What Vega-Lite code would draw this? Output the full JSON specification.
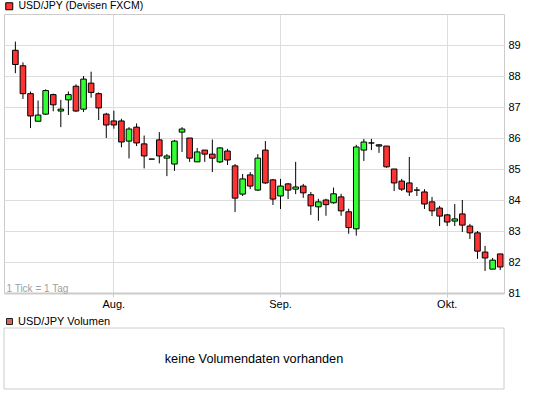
{
  "$schema": "https://vega.github.io/schema/vega-lite/v6.json",
  "padding": {"left": 3, "top": 0, "right": 0, "bottom": 0},
  "background": "white",
  "config": {
    "font": "Liberation Sans",
    "view": {"stroke": "#cccccc", "strokeWidth": 1},
    "axis": {"labelFont": "Liberation Sans", "labelColor": "#000000", "labelFontSize": 11}
  },
  "bounds": "flush",
  "spacing": 35,
  "resolve": {"scale": {"fill": "independent"}, "legend": {"fill": "independent"}},
  "vconcat": [
    {
      "width": 500,
      "height": 279,
      "data": {"values": [
        {"d":"2010-07-14","o":88.83,"h":89.11,"l":88.09,"c":88.37},
        {"d":"2010-07-15","o":88.33,"h":88.44,"l":87.26,"c":87.43},
        {"d":"2010-07-16","o":87.43,"h":87.50,"l":86.32,"c":86.71},
        {"d":"2010-07-19","o":86.54,"h":87.21,"l":86.54,"c":86.74},
        {"d":"2010-07-20","o":86.77,"h":87.57,"l":86.74,"c":87.53},
        {"d":"2010-07-21","o":87.40,"h":87.43,"l":86.86,"c":87.07},
        {"d":"2010-07-22","o":86.87,"h":87.23,"l":86.35,"c":86.93},
        {"d":"2010-07-23","o":87.23,"h":87.50,"l":86.74,"c":87.40},
        {"d":"2010-07-26","o":87.67,"h":87.73,"l":86.84,"c":86.87},
        {"d":"2010-07-27","o":86.93,"h":88.00,"l":86.84,"c":87.90},
        {"d":"2010-07-28","o":87.77,"h":88.14,"l":87.30,"c":87.47},
        {"d":"2010-07-29","o":87.43,"h":87.47,"l":86.58,"c":86.97},
        {"d":"2010-07-30","o":86.77,"h":86.81,"l":86.00,"c":86.42},
        {"d":"2010-08-02","o":86.55,"h":86.88,"l":86.30,"c":86.42},
        {"d":"2010-08-03","o":86.55,"h":86.62,"l":85.70,"c":85.87},
        {"d":"2010-08-04","o":85.90,"h":86.35,"l":85.34,"c":86.29},
        {"d":"2010-08-05","o":86.35,"h":86.47,"l":85.74,"c":85.84},
        {"d":"2010-08-06","o":85.81,"h":86.08,"l":85.02,"c":85.42},
        {"d":"2010-08-09","o":85.32,"h":85.32,"l":85.32,"c":85.32},
        {"d":"2010-08-10","o":85.94,"h":86.19,"l":85.18,"c":85.42},
        {"d":"2010-08-11","o":85.35,"h":85.48,"l":84.77,"c":85.42},
        {"d":"2010-08-12","o":85.16,"h":85.94,"l":84.94,"c":85.90},
        {"d":"2010-08-13","o":86.19,"h":86.35,"l":85.55,"c":86.29},
        {"d":"2010-08-16","o":86.00,"h":86.00,"l":85.23,"c":85.35},
        {"d":"2010-08-17","o":85.23,"h":85.68,"l":85.23,"c":85.55},
        {"d":"2010-08-18","o":85.61,"h":85.61,"l":85.23,"c":85.48},
        {"d":"2010-08-19","o":85.48,"h":85.95,"l":84.90,"c":85.35},
        {"d":"2010-08-20","o":85.23,"h":85.71,"l":85.19,"c":85.68},
        {"d":"2010-08-23","o":85.58,"h":85.65,"l":85.13,"c":85.29},
        {"d":"2010-08-24","o":85.10,"h":85.16,"l":83.61,"c":84.06},
        {"d":"2010-08-25","o":84.19,"h":84.84,"l":84.13,"c":84.68},
        {"d":"2010-08-26","o":84.81,"h":84.90,"l":84.35,"c":84.45},
        {"d":"2010-08-27","o":84.32,"h":85.48,"l":84.29,"c":85.35},
        {"d":"2010-08-30","o":85.61,"h":85.90,"l":84.52,"c":84.55},
        {"d":"2010-08-31","o":84.65,"h":84.68,"l":83.84,"c":84.03},
        {"d":"2010-09-01","o":84.13,"h":84.68,"l":83.71,"c":84.45},
        {"d":"2010-09-02","o":84.52,"h":84.55,"l":84.03,"c":84.32},
        {"d":"2010-09-03","o":84.35,"h":85.23,"l":84.19,"c":84.42},
        {"d":"2010-09-06","o":84.45,"h":84.52,"l":84.07,"c":84.23},
        {"d":"2010-09-07","o":84.17,"h":84.26,"l":83.52,"c":83.81},
        {"d":"2010-09-08","o":83.78,"h":84.04,"l":83.33,"c":83.94},
        {"d":"2010-09-09","o":84.00,"h":84.04,"l":83.49,"c":83.85},
        {"d":"2010-09-10","o":83.91,"h":84.40,"l":83.88,"c":84.20},
        {"d":"2010-09-13","o":84.10,"h":84.20,"l":83.49,"c":83.65},
        {"d":"2010-09-14","o":83.62,"h":83.72,"l":82.91,"c":83.11},
        {"d":"2010-09-15","o":83.07,"h":85.78,"l":82.85,"c":85.71},
        {"d":"2010-09-16","o":85.61,"h":85.97,"l":85.26,"c":85.87},
        {"d":"2010-09-17","o":85.84,"h":85.97,"l":85.61,"c":85.84},
        {"d":"2010-09-20","o":85.78,"h":85.80,"l":85.52,"c":85.74},
        {"d":"2010-09-21","o":85.74,"h":85.74,"l":85.04,"c":85.07},
        {"d":"2010-09-22","o":85.00,"h":85.00,"l":84.29,"c":84.55},
        {"d":"2010-09-23","o":84.61,"h":84.68,"l":84.29,"c":84.35},
        {"d":"2010-09-24","o":84.55,"h":85.39,"l":84.13,"c":84.26},
        {"d":"2010-09-27","o":84.32,"h":84.42,"l":84.13,"c":84.32},
        {"d":"2010-09-28","o":84.26,"h":84.35,"l":83.71,"c":83.87},
        {"d":"2010-09-29","o":83.94,"h":84.10,"l":83.48,"c":83.65},
        {"d":"2010-09-30","o":83.74,"h":83.81,"l":83.16,"c":83.48},
        {"d":"2010-10-01","o":83.52,"h":83.55,"l":83.16,"c":83.29},
        {"d":"2010-10-04","o":83.32,"h":83.87,"l":83.16,"c":83.39},
        {"d":"2010-10-05","o":83.55,"h":84.00,"l":82.97,"c":83.19},
        {"d":"2010-10-06","o":83.16,"h":83.23,"l":82.74,"c":82.94},
        {"d":"2010-10-07","o":82.94,"h":83.00,"l":82.10,"c":82.35},
        {"d":"2010-10-08","o":82.32,"h":82.52,"l":81.71,"c":82.13},
        {"d":"2010-10-11","o":81.77,"h":82.13,"l":81.77,"c":82.06},
        {"d":"2010-10-12","o":82.26,"h":82.26,"l":81.74,"c":81.84}
      ]},
      "encoding": {
        "x": {
          "field": "d", "type": "ordinal",
          "scale": {"paddingInner": 0, "paddingOuter": 0},
          "axis": {
            "values": ["2010-08-02", "2010-09-01", "2010-10-01"],
            "labelExpr": "datum.value == '2010-08-02' ? 'Aug.' : datum.value == '2010-09-01' ? 'Sep.' : 'Okt.'",
            "labelAngle": 0,
            "bandPosition": 0.5,
            "grid": true,
            "gridColor": "#dddddd",
            "tickColor": "#cccccc",
            "tickSize": 4,
            "labelPadding": 1,
            "labelFontSize": 11,
            "domainColor": "#cccccc",
            "domainWidth": 2,
            "title": "1 Tick = 1 Tag",
            "titleAnchor": "start",
            "titleAlign": "left",
            "titleBaseline": "alphabetic",
            "titleX": 2,
            "titleY": -2,
            "titleColor": "#a0a0a0",
            "titleFontSize": 10,
            "titleFontWeight": "normal",
            "titleFont": "Liberation Sans"
          }
        }
      },
      "layer": [
        {
          "mark": {"type": "rule", "color": "#000000", "strokeWidth": 1},
          "encoding": {
            "y": {
              "field": "l", "type": "quantitative",
              "scale": {"domain": [81, 90], "nice": false, "zero": false},
              "axis": {
                "orient": "right",
                "values": [81, 82, 83, 84, 85, 86, 87, 88, 89],
                "format": "d",
                "tickCount": 20,
                "labelOverlap": false,
                "ticks": false,
                "tickSize": 0,
                "domain": false,
                "labelPadding": 4,
                "grid": true,
                "gridColor": "#dddddd",
                "title": null
              }
            },
            "y2": {"field": "h"}
          }
        },
        {
          "mark": {"type": "bar", "width": {"band": 0.74}, "stroke": "#000000", "strokeWidth": 1},
          "encoding": {
            "y": {"field": "o", "type": "quantitative"},
            "y2": {"field": "c"},
            "color": {"condition": {"test": "datum.c > datum.o", "value": "#33ff33"}, "value": "#ff3333"}
          }
        },
        {
          "data": {"values": [{"series": "USD/JPY (Devisen FXCM)"}]},
          "mark": {"type": "square", "opacity": 0},
          "encoding": {
            "fill": {
              "field": "series", "type": "nominal",
              "scale": {"range": ["#ff3333"]},
              "legend": {
                "orient": "none", "legendX": 0, "legendY": -13,
                "title": null, "padding": 0,
                "symbolType": "square", "symbolSize": 49,
                "labelFontSize": 10.5, "labelColor": "#000000", "labelOffset": 4,
                "labelFont": "Liberation Sans",
                "encode": {"symbols": {"update": {"opacity": {"value": 1}, "stroke": {"value": "#000000"}, "strokeWidth": {"value": 1}}}}
              }
            }
          }
        }
      ]
    },
    {
      "width": 500,
      "height": 61,
      "data": {"values": [{"msg": "keine Volumendaten vorhanden", "series": "USD/JPY Volumen"}]},
      "layer": [
        {
          "mark": {"type": "rect", "filled": false, "stroke": "#cccccc", "strokeWidth": 1},
          "encoding": {}
        },
        {
          "mark": {"type": "text", "font": "Liberation Sans", "fontSize": 12.7, "color": "#000000"},
          "encoding": {"text": {"field": "msg", "type": "nominal"}}
        },
        {
          "mark": {"type": "square", "opacity": 0},
          "encoding": {
            "fill": {
              "field": "series", "type": "nominal",
              "scale": {"range": ["#d9645f"]},
              "legend": {
                "orient": "none", "legendX": 0, "legendY": -12,
                "title": null, "padding": 0,
                "symbolType": "square", "symbolSize": 36,
                "labelFontSize": 11, "labelColor": "#000000", "labelOffset": 3,
                "labelFont": "Liberation Sans",
                "encode": {"symbols": {"update": {"opacity": {"value": 1}, "stroke": {"value": "#222222"}, "strokeWidth": {"value": 1}}}}
              }
            }
          }
        }
      ]
    }
  ]
}
